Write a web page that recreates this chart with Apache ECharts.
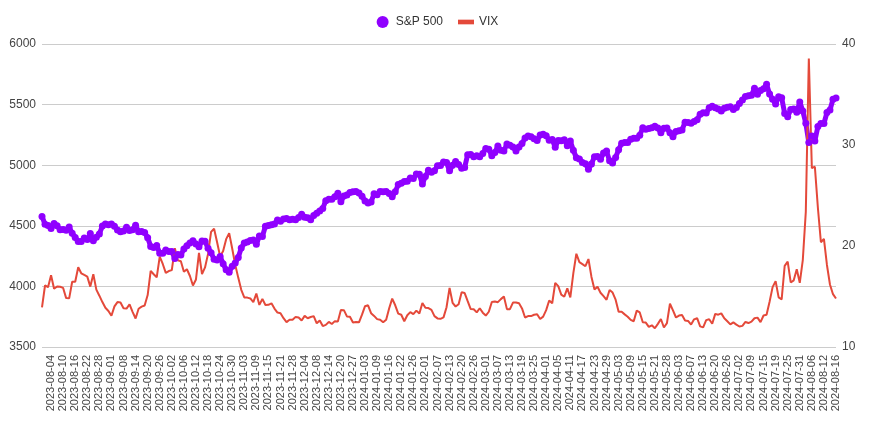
<!DOCTYPE html>
<html>
<head>
<meta charset="utf-8">
<script src="https://cdn.jsdelivr.net/npm/echarts@6/dist/echarts.min.js"></script>
<style>
html,body{margin:0;padding:0;background:#fff;}
#c{width:875px;height:428px;}
</style>
</head>
<body>
<div id="c"></div>
<script>
const dates = [
"2023-08-01","2023-08-02","2023-08-03","2023-08-04","2023-08-07","2023-08-08","2023-08-09","2023-08-10","2023-08-11","2023-08-14","2023-08-15","2023-08-16","2023-08-17","2023-08-18","2023-08-21","2023-08-22","2023-08-23","2023-08-24","2023-08-25","2023-08-28","2023-08-29","2023-08-30","2023-08-31",
"2023-09-01","2023-09-05","2023-09-06","2023-09-07","2023-09-08","2023-09-11","2023-09-12","2023-09-13","2023-09-14","2023-09-15","2023-09-18","2023-09-19","2023-09-20","2023-09-21","2023-09-22","2023-09-25","2023-09-26","2023-09-27","2023-09-28","2023-09-29",
"2023-10-02","2023-10-03","2023-10-04","2023-10-05","2023-10-06","2023-10-09","2023-10-10","2023-10-11","2023-10-12","2023-10-13","2023-10-16","2023-10-17","2023-10-18","2023-10-19","2023-10-20","2023-10-23","2023-10-24","2023-10-25","2023-10-26","2023-10-27","2023-10-30","2023-10-31",
"2023-11-01","2023-11-02","2023-11-03","2023-11-06","2023-11-07","2023-11-08","2023-11-09","2023-11-10","2023-11-13","2023-11-14","2023-11-15","2023-11-16","2023-11-17","2023-11-20","2023-11-21","2023-11-22","2023-11-24","2023-11-27","2023-11-28","2023-11-29","2023-11-30",
"2023-12-01","2023-12-04","2023-12-05","2023-12-06","2023-12-07","2023-12-08","2023-12-11","2023-12-12","2023-12-13","2023-12-14","2023-12-15","2023-12-18","2023-12-19","2023-12-20","2023-12-21","2023-12-22","2023-12-26","2023-12-27","2023-12-28","2023-12-29",
"2024-01-02","2024-01-03","2024-01-04","2024-01-05","2024-01-08","2024-01-09","2024-01-10","2024-01-11","2024-01-12","2024-01-16","2024-01-17","2024-01-18","2024-01-19","2024-01-22","2024-01-23","2024-01-24","2024-01-25","2024-01-26","2024-01-29","2024-01-30","2024-01-31",
"2024-02-01","2024-02-02","2024-02-05","2024-02-06","2024-02-07","2024-02-08","2024-02-09","2024-02-12","2024-02-13","2024-02-14","2024-02-15","2024-02-16","2024-02-20","2024-02-21","2024-02-22","2024-02-23","2024-02-26","2024-02-27","2024-02-28","2024-02-29",
"2024-03-01","2024-03-04","2024-03-05","2024-03-06","2024-03-07","2024-03-08","2024-03-11","2024-03-12","2024-03-13","2024-03-14","2024-03-15","2024-03-18","2024-03-19","2024-03-20","2024-03-21","2024-03-22","2024-03-25","2024-03-26","2024-03-27","2024-03-28",
"2024-04-01","2024-04-02","2024-04-03","2024-04-04","2024-04-05","2024-04-08","2024-04-09","2024-04-10","2024-04-11","2024-04-12","2024-04-15","2024-04-16","2024-04-17","2024-04-18","2024-04-19","2024-04-22","2024-04-23","2024-04-24","2024-04-25","2024-04-26","2024-04-29","2024-04-30",
"2024-05-01","2024-05-02","2024-05-03","2024-05-06","2024-05-07","2024-05-08","2024-05-09","2024-05-10","2024-05-13","2024-05-14","2024-05-15","2024-05-16","2024-05-17","2024-05-20","2024-05-21","2024-05-22","2024-05-23","2024-05-24","2024-05-28","2024-05-29","2024-05-30","2024-05-31",
"2024-06-03","2024-06-04","2024-06-05","2024-06-06","2024-06-07","2024-06-10","2024-06-11","2024-06-12","2024-06-13","2024-06-14","2024-06-17","2024-06-18","2024-06-20","2024-06-21","2024-06-24","2024-06-25","2024-06-26","2024-06-27","2024-06-28",
"2024-07-01","2024-07-02","2024-07-03","2024-07-05","2024-07-08","2024-07-09","2024-07-10","2024-07-11","2024-07-12","2024-07-15","2024-07-16","2024-07-17","2024-07-18","2024-07-19","2024-07-22","2024-07-23","2024-07-24","2024-07-25","2024-07-26","2024-07-29","2024-07-30","2024-07-31",
"2024-08-01","2024-08-02","2024-08-05","2024-08-06","2024-08-07","2024-08-08","2024-08-09","2024-08-12","2024-08-13","2024-08-14","2024-08-15","2024-08-16"
];

const sp500 = [
4576.7,4513.4,4501.9,4478.0,4518.4,4499.4,4467.7,4468.8,4464.1,4489.7,4437.9,4404.3,4370.4,4369.7,4399.8,4387.6,4436.0,4376.3,4405.7,4433.3,4497.6,4514.9,4507.7,
4515.8,4496.8,4465.5,4451.1,4457.5,4487.5,4461.9,4467.4,4505.1,4450.3,4453.5,4444.0,4402.2,4330.0,4320.1,4337.4,4273.5,4274.5,4299.7,4288.1,
4288.4,4229.5,4263.8,4258.2,4308.5,4335.7,4358.2,4377.0,4349.6,4327.8,4373.6,4373.2,4314.6,4278.0,4224.2,4217.0,4247.7,4186.8,4137.2,4117.4,4166.8,4193.8,
4237.9,4317.8,4358.3,4366.0,4378.4,4382.8,4347.4,4415.2,4411.6,4495.7,4502.9,4508.2,4514.0,4547.4,4538.2,4556.6,4559.3,4550.4,4554.9,4550.6,4567.8,
4594.6,4569.8,4567.2,4549.3,4585.6,4604.4,4622.4,4643.7,4707.1,4719.6,4719.2,4740.6,4768.4,4698.4,4746.8,4754.6,4774.8,4781.6,4783.4,4769.8,
4742.8,4704.8,4688.7,4697.2,4763.5,4756.5,4783.5,4780.2,4783.8,4766.0,4739.2,4780.9,4839.8,4850.4,4864.6,4868.6,4894.2,4891.0,4927.9,4925.0,4845.7,
4906.2,4958.6,4942.8,4954.2,4995.1,4997.9,5026.6,5021.8,4953.2,5000.6,5029.7,5005.6,4975.5,4981.8,5087.0,5088.8,5069.5,5078.2,5069.8,5096.3,
5137.1,5131.0,5078.7,5104.8,5157.4,5123.7,5117.9,5175.3,5165.3,5150.5,5117.1,5149.4,5178.5,5224.6,5241.5,5234.2,5218.2,5203.6,5248.5,5254.4,
5243.8,5205.8,5211.5,5147.2,5204.3,5202.4,5209.9,5160.6,5199.1,5123.4,5061.8,5051.4,5022.2,5011.1,4967.2,5010.6,5070.6,5071.6,5048.4,5100.0,5116.2,5035.7,
5018.4,5064.2,5127.8,5180.7,5187.7,5187.7,5214.1,5222.7,5221.4,5246.7,5308.2,5297.1,5303.3,5308.1,5321.4,5307.0,5267.8,5304.7,5306.0,5267.0,5235.5,5277.5,
5283.4,5291.3,5354.0,5353.0,5347.0,5360.8,5375.3,5421.0,5433.7,5431.6,5473.2,5487.0,5473.2,5464.6,5447.9,5469.3,5477.9,5482.9,5460.5,
5475.1,5509.0,5537.0,5567.2,5572.9,5577.0,5633.9,5584.5,5615.4,5631.2,5667.2,5588.3,5544.6,5505.0,5564.4,5555.7,5427.1,5399.2,5459.1,5463.5,5436.4,5522.3,
5446.7,5346.6,5186.3,5240.0,5199.5,5319.3,5344.2,5344.4,5434.4,5455.2,5543.2,5554.3
];

const vix = [
13.93,16.09,15.92,17.10,15.77,15.99,15.96,15.85,14.84,14.82,16.46,16.46,17.89,17.30,17.13,16.97,15.98,17.20,15.68,15.08,14.45,13.88,13.57,
13.09,14.02,14.45,14.40,13.84,13.80,14.23,13.48,12.82,13.79,14.00,14.11,15.14,17.54,17.20,16.90,18.94,18.22,17.34,17.52,
17.61,19.78,18.58,18.49,17.45,17.70,17.03,16.09,16.69,19.32,17.21,17.88,19.22,21.40,21.71,20.37,18.97,19.50,20.68,21.27,19.75,18.14,
16.87,15.66,14.91,14.89,14.81,14.45,15.29,14.17,14.76,14.16,14.18,14.32,13.80,13.41,13.35,12.85,12.46,12.69,12.69,12.98,12.92,
12.63,13.08,12.85,12.97,13.06,12.35,12.63,12.07,12.19,12.48,12.28,12.56,12.53,13.67,13.65,13.03,12.99,12.43,12.47,12.45,
13.20,14.04,14.13,13.35,13.08,12.76,12.69,12.44,12.70,13.84,14.79,14.13,13.30,13.19,12.55,13.14,13.45,13.26,13.60,13.31,14.35,
13.88,13.85,13.67,13.06,12.83,12.79,12.93,13.94,15.85,14.38,14.01,14.24,15.42,15.34,14.54,13.75,13.74,13.43,13.84,13.40,
13.11,13.49,14.46,14.50,14.44,14.74,15.00,13.75,13.75,14.40,14.41,14.33,13.82,12.92,13.06,13.06,13.19,13.24,12.78,13.01,
13.65,14.61,14.33,16.35,16.03,15.19,14.98,15.80,14.91,17.31,19.23,18.40,18.21,18.00,18.71,16.94,15.69,15.97,15.37,15.03,14.67,15.65,
15.39,14.68,13.49,13.49,13.23,13.00,12.69,12.55,13.60,13.42,12.45,12.42,11.99,12.15,11.86,12.29,12.77,11.93,12.36,14.28,13.62,12.92,
13.11,13.16,12.63,12.58,12.22,12.74,12.85,12.04,11.94,12.66,12.75,12.30,13.28,13.20,13.33,12.84,12.55,12.24,12.44,
12.22,12.03,12.09,12.48,12.37,12.51,12.85,12.91,12.46,13.12,13.19,14.48,15.93,16.52,14.91,14.72,18.04,18.46,16.39,16.60,17.69,16.36,
18.59,23.39,38.57,27.71,27.85,23.79,20.37,20.71,18.12,16.19,15.23,14.80
];

const leftTicks = { min: 3500, max: 6000, interval: 500 };
const rightTicks = { min: 10, max: 40, interval: 10 };

const FONT = '"Liberation Sans", Arial, sans-serif';
const plain = function (v) { return String(v); };
const chart = echarts.init(document.getElementById('c'), null, { renderer: 'canvas' });
chart.setOption({
  animation: false,
  backgroundColor: '#fff',
  textStyle: { fontFamily: FONT },
  legend: {
    top: 11,
    left: 'center',
    itemWidth: 16,
    itemHeight: 12,
    itemGap: 15,
    textStyle: { fontFamily: FONT, fontSize: 12, color: '#333' },
    data: [
      { name: 'S&P 500', icon: 'circle' },
      { name: 'VIX', icon: 'path://M0,0H12V3.5H0Z' }
    ]
  },
  grid: { left: 42, right: 39, top: 44, bottom: 81 },
  xAxis: {
    type: 'category',
    data: dates,
    boundaryGap: false,
    axisLine: { show: false },
    axisTick: { show: false },
    axisLabel: {
      rotate: 90,
      fontSize: 11,
      fontFamily: FONT,
      color: '#444',
      margin: 8,
      interval: function (index) { return index >= 3 && (index - 3) % 4 === 0; }
    },
    splitLine: { show: false }
  },
  yAxis: [
    {
      type: 'value',
      min: leftTicks.min, max: leftTicks.max, interval: leftTicks.interval,
      axisLine: { show: false },
      axisTick: { show: false },
      axisLabel: { fontSize: 12, fontFamily: FONT, color: '#444', margin: 6, formatter: plain },
      splitLine: { lineStyle: { color: '#cccccc', width: 1 } }
    },
    {
      type: 'value',
      min: rightTicks.min, max: rightTicks.max, interval: rightTicks.interval,
      axisLine: { show: false },
      axisTick: { show: false },
      axisLabel: { fontSize: 12, fontFamily: FONT, color: '#444', margin: 6, formatter: plain },
      splitLine: { show: false }
    }
  ],
  series: [
    {
      name: 'S&P 500',
      type: 'line',
      yAxisIndex: 0,
      data: sp500,
      symbol: 'circle',
      symbolSize: 7,
      showSymbol: true,
      showAllSymbol: true,
      color: '#9000ff',
      itemStyle: { color: '#9000ff', borderWidth: 0 },
      lineStyle: { color: '#9000ff', width: 5 },
      emphasis: { disabled: true }
    },
    {
      name: 'VIX',
      type: 'line',
      yAxisIndex: 1,
      data: vix,
      symbol: 'none',
      showSymbol: false,
      color: '#e4493a',
      itemStyle: { color: '#e4493a' },
      lineStyle: { color: '#e4493a', width: 2 },
      emphasis: { disabled: true }
    }
  ]
});
</script>
</body>
</html>
